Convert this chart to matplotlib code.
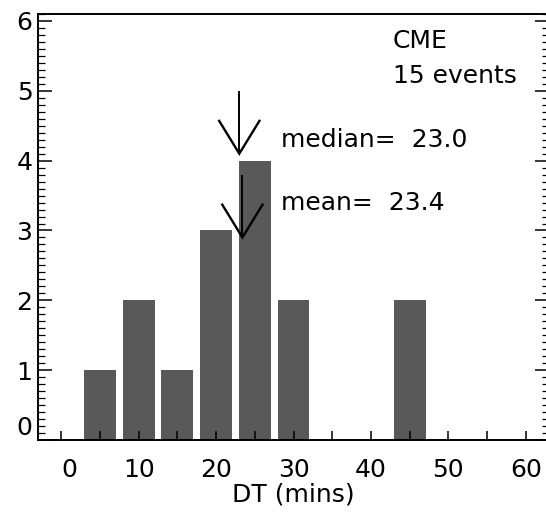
import matplotlib
matplotlib.use("Agg")
import matplotlib.pyplot as plt
from matplotlib.ticker import MultipleLocator

# Histogram of DT for the CME sample
bin_centers = [5, 10, 15, 20, 25, 30, 45]
counts = [1, 2, 1, 3, 4, 2, 2]
bin_width = 5
median_dt = 23.0
mean_dt = 23.4
n_events = 15
x_ticks = [0, 10, 20, 30, 40, 50, 60]
y_ticks = [0, 1, 2, 3, 4, 5, 6]

plt.rcParams['font.family'] = ['DejaVu Sans']
FS = 18

W, H = 546, 517
fig = plt.figure(figsize=(W / 100, H / 100), dpi=100)
ax = fig.add_axes([38 / W, 77 / H, (549 - 38) / W, (440 - 14) / H])

ax.bar(bin_centers, counts, width=bin_width * 0.82, color='#595959',
       edgecolor='none', align='center', zorder=1)

ax.set_xlim(-3, 63)
ax.set_ylim(0, 6.1)

ax.set_xticks(x_ticks)
ax.xaxis.set_minor_locator(MultipleLocator(5))
ax.set_yticks(y_ticks)
ax.yaxis.set_minor_locator(MultipleLocator(0.1))

ax.tick_params(axis='x', which='both', direction='in', length=6.5, width=1.1,
               top=False, bottom=True, labelsize=FS, pad=13)
ax.tick_params(axis='y', which='major', direction='in', length=10, width=1.1,
               left=True, right=True, labelsize=FS, pad=4)
ax.tick_params(axis='y', which='minor', direction='in', length=5, width=0.9,
               left=True, right=True)

for s in ax.spines.values():
    s.set_linewidth(1.4)

fig.canvas.draw()
xl = ax.get_xticklabels()
xl[0].set_ha('left')
yl = ax.get_yticklabels()
yl[0].set_va('bottom')

ax.set_xlabel('DT (mins)', fontsize=FS, labelpad=0)


def down_arrow(x, tip, length=0.9, head_len=0.47, head_half=2.6):
    ax.plot([x, x], [tip + length, tip], color='black', lw=1.4,
            solid_capstyle='butt', zorder=3)
    ax.plot([x - head_half, x, x + head_half],
            [tip + head_len, tip, tip + head_len], color='black', lw=1.7,
            solid_joinstyle='miter', zorder=3)


down_arrow(median_dt, 4.1)
down_arrow(mean_dt, 2.9)

ax.text(28.4, 4.20, f'median=  {median_dt:.1f}', fontsize=FS, va='baseline', ha='left')
ax.text(28.4, 3.29, f'mean=  {mean_dt:.1f}', fontsize=FS, va='baseline', ha='left')
ax.text(42.8, 5.61, 'CME', fontsize=FS, va='baseline', ha='left')
ax.text(42.8, 5.11, f'{n_events} events', fontsize=FS, va='baseline', ha='left')

fig.savefig('out.png', dpi=100)
